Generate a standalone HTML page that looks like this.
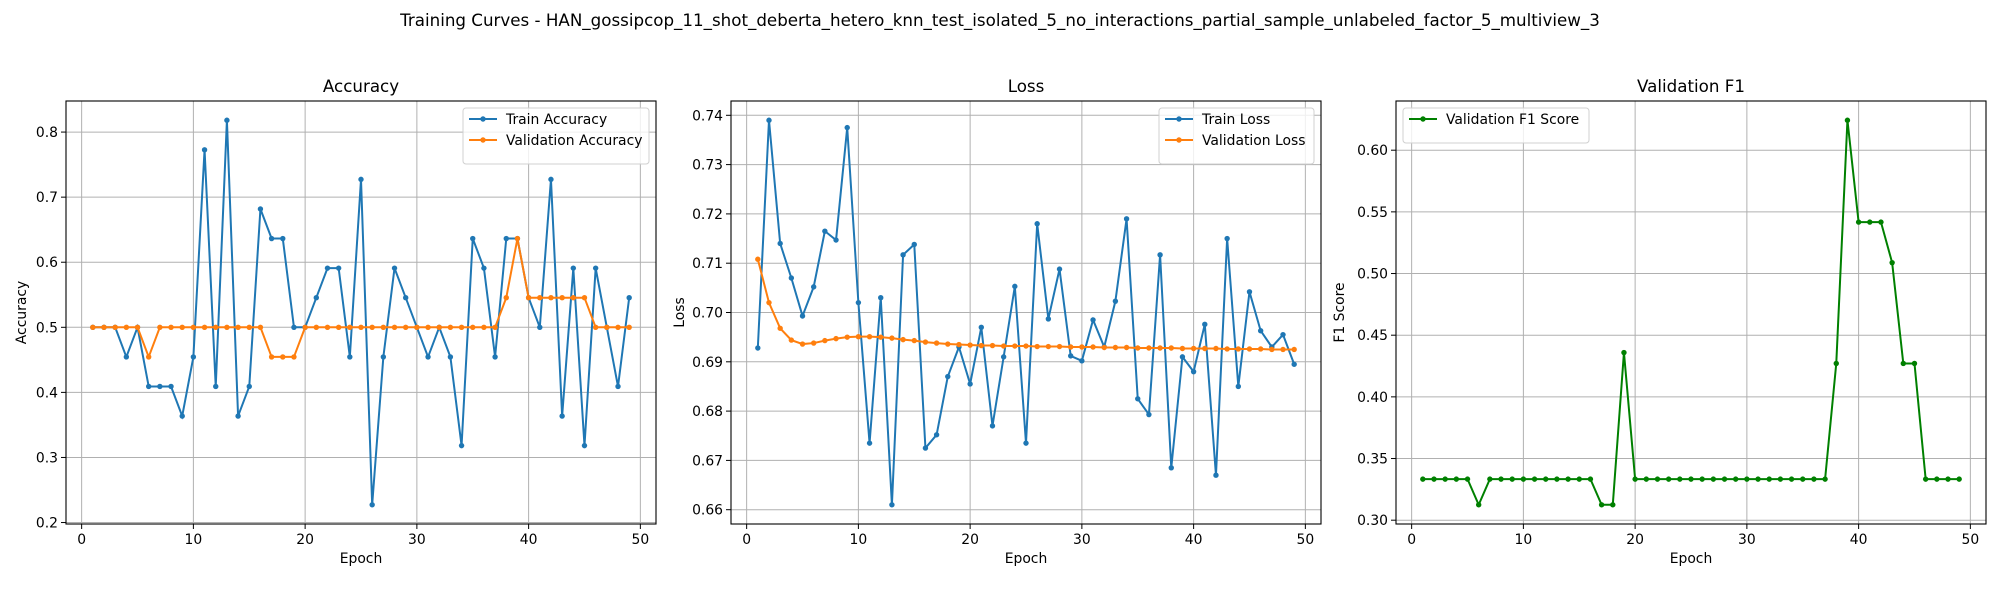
<!DOCTYPE html>
<html><head><meta charset="utf-8">
<style>
html,body{margin:0;padding:0;background:#fff;}
svg{display:block;font-family:"DejaVu Sans","Liberation Sans",sans-serif;}
</style></head>
<body>
<svg id="fig" width="2000" height="600" viewBox="0 0 2000 600" xmlns="http://www.w3.org/2000/svg">
<rect width="2000" height="600" fill="#fff"/>
<text x="1000" y="26" text-anchor="middle" font-size="16.7" fill="#000">Training Curves - HAN_gossipcop_11_shot_deberta_hetero_knn_test_isolated_5_no_interactions_partial_sample_unlabeled_factor_5_multiview_3</text>
</svg>
<script>
const epochs = [1,2,3,4,5,6,7,8,9,10,11,12,13,14,15,16,17,18,19,20,21,22,23,24,25,26,27,28,29,30,31,32,33,34,35,36,37,38,39,40,41,42,43,44,45,46,47,48,49];
const trainAcc = [0.5,0.5,0.5,0.4545,0.5,0.4091,0.4091,0.4091,0.3636,0.4545,0.7727,0.4091,0.8182,0.3636,0.4091,0.6818,0.6364,0.6364,0.5,0.5,0.5455,0.5909,0.5909,0.4545,0.7273,0.2273,0.4545,0.5909,0.5455,0.5,0.4545,0.5,0.4545,0.3182,0.6364,0.5909,0.4545,0.6364,0.6364,0.5455,0.5,0.7273,0.3636,0.5909,0.3182,0.5909,0.5,0.4091,0.5455];
const valAcc = [0.5,0.5,0.5,0.5,0.5,0.4545,0.5,0.5,0.5,0.5,0.5,0.5,0.5,0.5,0.5,0.5,0.4545,0.4545,0.4545,0.5,0.5,0.5,0.5,0.5,0.5,0.5,0.5,0.5,0.5,0.5,0.5,0.5,0.5,0.5,0.5,0.5,0.5,0.5455,0.6364,0.5455,0.5455,0.5455,0.5455,0.5455,0.5455,0.5,0.5,0.5,0.5];
const trainLoss = [0.6928,0.739,0.714,0.707,0.6993,0.7052,0.7165,0.7147,0.7375,0.702,0.6735,0.703,0.661,0.7117,0.7138,0.6725,0.6752,0.687,0.693,0.6855,0.697,0.677,0.691,0.7053,0.6735,0.718,0.6987,0.7088,0.6912,0.6902,0.6985,0.693,0.7023,0.719,0.6825,0.6793,0.7117,0.6685,0.691,0.688,0.6976,0.667,0.715,0.685,0.7042,0.6963,0.693,0.6955,0.6895];
const valLoss = [0.7108,0.702,0.6968,0.6944,0.6936,0.6938,0.6943,0.6947,0.695,0.6951,0.6951,0.695,0.6948,0.6945,0.6943,0.694,0.6938,0.6936,0.6935,0.6934,0.6933,0.6933,0.6932,0.6932,0.6932,0.6931,0.6931,0.6931,0.6930,0.6930,0.6930,0.6929,0.6929,0.6929,0.6928,0.6928,0.6928,0.6928,0.6927,0.6927,0.6927,0.6927,0.6926,0.6926,0.6926,0.6926,0.6925,0.6925,0.6925];
const valF1 = [0.3333,0.3333,0.3333,0.3333,0.3333,0.3125,0.3333,0.3333,0.3333,0.3333,0.3333,0.3333,0.3333,0.3333,0.3333,0.3333,0.3125,0.3125,0.4359,0.3333,0.3333,0.3333,0.3333,0.3333,0.3333,0.3333,0.3333,0.3333,0.3333,0.3333,0.3333,0.3333,0.3333,0.3333,0.3333,0.3333,0.3333,0.4271,0.6243,0.5417,0.5417,0.5417,0.5088,0.4271,0.4271,0.3333,0.3333,0.3333,0.3333];
const xTicks = [0,10,20,30,40,50];
const accTicks = [0.2,0.3,0.4,0.5,0.6,0.7,0.8];
const lossTicks = [0.66,0.67,0.68,0.69,0.70,0.71,0.72,0.73,0.74];
const f1Ticks = [0.30,0.35,0.40,0.45,0.50,0.55,0.60];

const NS = "http://www.w3.org/2000/svg";
const svg = document.getElementById('fig');
function mk(tag, attrs, parent){
  const e = document.createElementNS(NS, tag);
  for (const k in attrs) e.setAttribute(k, attrs[k]);
  (parent||svg).appendChild(e);
  return e;
}
const TOP = 101, BOT = 524, W = 590;

function panel(opt){
  const L = opt.left, R = L + W;
  const g = mk('g', {});
  
  
  let lo = Infinity, hi = -Infinity;
  opt.series.forEach(s => s.data.forEach(v => { lo = Math.min(lo, v); hi = Math.max(hi, v); }));
  const m = (hi - lo) * 0.05; lo -= m; hi += m;
  const e0 = Math.min(...epochs), e1 = Math.max(...epochs), em = (e1 - e0) * 0.05;
  const xs = v => L + (v - (e0 - em)) / ((e1 + em) - (e0 - em)) * W;
  const ys = v => BOT - (v - lo) / (hi - lo) * (BOT - TOP);
  // grid + ticks
  xTicks.forEach(t => {
    const x = xs(t);
    const gl = mk('line', {x1:x, x2:x, y1:TOP, y2:BOT, stroke:'#b0b0b0', 'stroke-width':1}, g);
    
    
    mk('line', {x1:x, x2:x, y1:BOT, y2:BOT+5, stroke:'#000', 'stroke-width':1}, g);
    const tl = mk('text', {x:x, y:BOT+20, 'text-anchor':'middle', 'font-size':13.9}, g);
    tl.textContent = t;
    
    
  });
  opt.yticks.forEach(t => {
    const y = ys(t);
    if (y < TOP - 0.5 || y > BOT + 0.5) return;
    const gl = mk('line', {x1:L, x2:R, y1:y, y2:y, stroke:'#b0b0b0', 'stroke-width':1}, g);
    
    
    mk('line', {x1:L-5, x2:L, y1:y, y2:y, stroke:'#000', 'stroke-width':1}, g);
    const tl = mk('text', {x:L-8, y:y+5, 'text-anchor':'end', 'font-size':13.9}, g);
    tl.textContent = t.toFixed(opt.dec);
    
    
  });
  // series
  opt.series.forEach(s => {
    const pts = epochs.map((e, i) => xs(e).toFixed(2) + ',' + ys(s.data[i]).toFixed(2)).join(' ');
    const pl = mk('polyline', {points:pts, fill:'none', stroke:s.color, 'stroke-width':2}, g);
    
    
    epochs.forEach((e, i) => {
      const c = mk('circle', {cx:xs(e), cy:ys(s.data[i]), r:2.7, fill:s.color}, g);
      
      
    });
  });
  const fr = mk('rect', {x:L, y:TOP, width:W, height:BOT-TOP, fill:'none', stroke:'#000', 'stroke-width':1.1}, g);
  
  
  const ti = mk('text', {x:L+W/2, y:TOP-9, 'text-anchor':'middle', 'font-size':16.7}, g);
  ti.textContent = opt.title;
  
  
  const xl = mk('text', {x:L+W/2, y:BOT+39, 'text-anchor':'middle', 'font-size':13.9}, g);
  xl.textContent = 'Epoch';
  
  
  const yl = mk('text', {x:0, y:0, 'text-anchor':'middle', 'font-size':13.9, transform:'translate(' + opt.ylx + ',' + ((TOP+BOT)/2) + ') rotate(-90)'}, g);
  yl.textContent = opt.ylabel;
  
  
  // legend
  const lg = opt.legend;
  const h = 14 + opt.series.length * 21;
  const box = mk('rect', {x:lg.x, y:TOP+7, width:lg.w, height:h, rx:3, fill:'#fff', 'fill-opacity':0.8, stroke:'#d0d0d0'}, g);
  
  
  opt.series.forEach((s, i) => {
    const y = TOP + 18 + i * 21;
    mk('line', {x1:lg.x+6, x2:lg.x+34, y1:y, y2:y, stroke:s.color, 'stroke-width':2}, g);
    mk('circle', {cx:lg.x+20, cy:y, r:2.7, fill:s.color}, g);
    const t = mk('text', {x:lg.x+43, y:y+5, 'font-size':13.9}, g);
    t.textContent = s.label;
    
    
  });
}

panel({name:'accuracy', left:66, title:'Accuracy', ylabel:'Accuracy', ylx:26, yticks:accTicks, dec:1,
  legend:{x:463, w:186},
  series:[{key:'train-accuracy', data:trainAcc, color:'#1f77b4', label:'Train Accuracy'},
          {key:'validation-accuracy', data:valAcc, color:'#ff7f0e', label:'Validation Accuracy'}]});
panel({name:'loss', left:731, title:'Loss', ylabel:'Loss', ylx:684, yticks:lossTicks, dec:2,
  legend:{x:1159, w:155},
  series:[{key:'train-loss', data:trainLoss, color:'#1f77b4', label:'Train Loss'},
          {key:'validation-loss', data:valLoss, color:'#ff7f0e', label:'Validation Loss'}]});
panel({name:'f1', left:1396, title:'Validation F1', ylabel:'F1 Score', ylx:1344, yticks:f1Ticks, dec:2,
  legend:{x:1403, w:186},
  series:[{key:'validation-f1', data:valF1, color:'#008000', label:'Validation F1 Score'}]});
</script>
</body></html>
